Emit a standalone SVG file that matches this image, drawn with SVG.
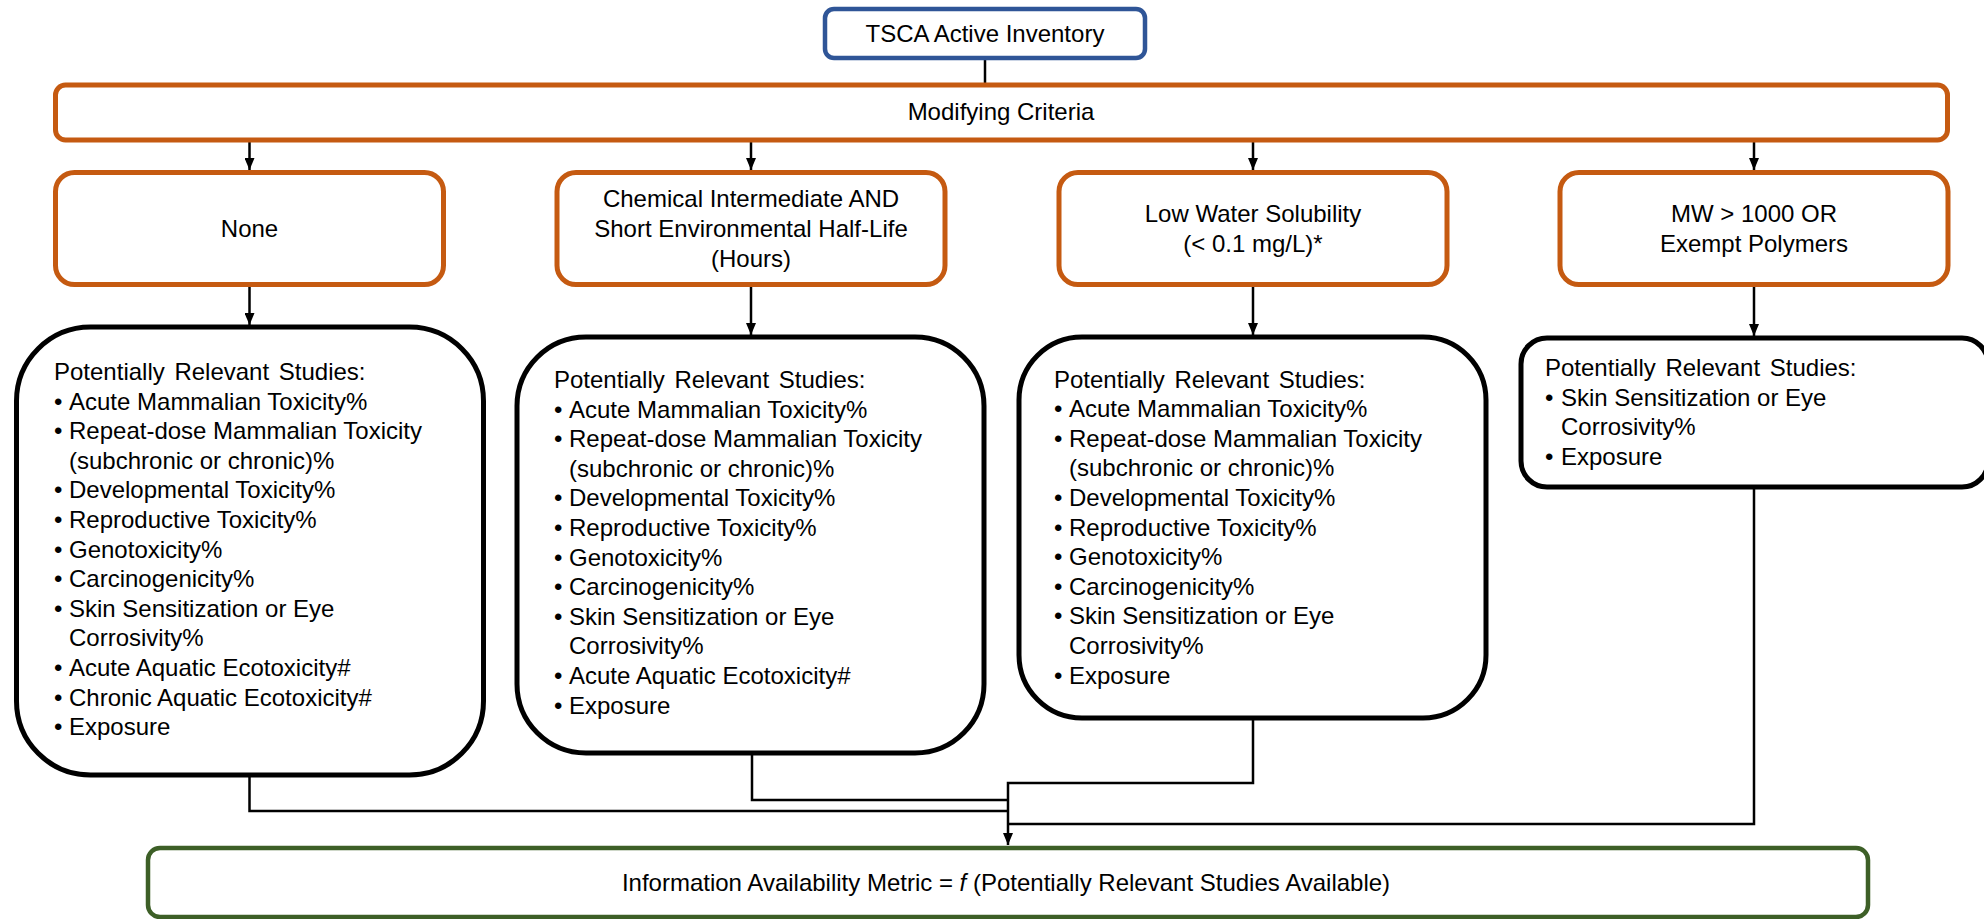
<svg xmlns="http://www.w3.org/2000/svg" width="1984" height="919" viewBox="0 0 1984 919">
<defs>
<style>
text{font-family:"Liberation Sans",Arial,sans-serif;font-size:24px;fill:#000}
.c{text-anchor:middle}
.h{word-spacing:3px}
.crit{fill:#fff;stroke:#C55A11;stroke-width:5}
.study{fill:#fff;stroke:#000;stroke-width:5}
.conn{fill:none;stroke:#000;stroke-width:2.5}
</style>
<marker id="ah" viewBox="0 0 12 10" refX="12" refY="5" markerWidth="12" markerHeight="10" markerUnits="userSpaceOnUse" orient="auto">
<path d="M0,0 L12,5 L0,10 z" fill="#000"/>
</marker>
</defs>
<rect width="1984" height="919" fill="#fff"/>

<g id="connectors">
<line class="conn" x1="985" y1="58" x2="985" y2="84"/>
<line class="conn" x1="249.5" y1="142" x2="249.5" y2="170" marker-end="url(#ah)"/>
<line class="conn" x1="751" y1="142" x2="751" y2="170" marker-end="url(#ah)"/>
<line class="conn" x1="1253" y1="142" x2="1253" y2="170" marker-end="url(#ah)"/>
<line class="conn" x1="1754" y1="142" x2="1754" y2="170" marker-end="url(#ah)"/>
<line class="conn" x1="249.5" y1="286" x2="249.5" y2="325" marker-end="url(#ah)"/>
<line class="conn" x1="751" y1="286" x2="751" y2="335" marker-end="url(#ah)"/>
<line class="conn" x1="1253" y1="286" x2="1253" y2="335" marker-end="url(#ah)"/>
<line class="conn" x1="1754" y1="286" x2="1754" y2="336" marker-end="url(#ah)"/>
<polyline class="conn" points="249.5,776 249.5,811 1008,811"/>
<polyline class="conn" points="752,754 752,800 1008,800"/>
<polyline class="conn" points="1253,719 1253,783 1008,783 1008,845" marker-end="url(#ah)"/>
<polyline class="conn" points="1754,488 1754,824 1008,824"/>
</g>

<g id="tsca">
<rect x="825" y="9" width="320" height="49" rx="9" fill="#fff" stroke="#2F5597" stroke-width="4.5"/>
<text class="c" x="985" y="42">TSCA Active Inventory</text>
</g>

<g id="modifying">
<rect x="55.5" y="85" width="1892" height="55" rx="10" class="crit"/>
<text class="c" x="1001" y="120">Modifying Criteria</text>
</g>

<g id="crit-none">
<rect x="55.5" y="172.5" width="388" height="112" rx="19" class="crit"/>
<text class="c" x="249.5" y="237">None</text>
</g>
<g id="crit-chem">
<rect x="557" y="172.5" width="388" height="112" rx="19" class="crit"/>
<text class="c" x="751" y="207">Chemical Intermediate AND</text>
<text class="c" x="751" y="237">Short Environmental Half-Life</text>
<text class="c" x="751" y="267">(Hours)</text>
</g>
<g id="crit-low">
<rect x="1059" y="172.5" width="388" height="112" rx="19" class="crit"/>
<text class="c" x="1253" y="222">Low Water Solubility</text>
<text class="c" x="1253" y="252">(&lt; 0.1 mg/L)*</text>
</g>
<g id="crit-mw">
<rect x="1560" y="172.5" width="388" height="112" rx="19" class="crit"/>
<text class="c" x="1754" y="222">MW &gt; 1000 OR</text>
<text class="c" x="1754" y="252">Exempt Polymers</text>
</g>

<g id="study-none">
<rect x="16.5" y="327" width="467" height="448" rx="74" class="study"/>
<text class="h" x="54" y="380">Potentially Relevant Studies:</text>
<text x="54" y="409.6">•</text><text x="69" y="409.6">Acute Mammalian Toxicity%</text>
<text x="54" y="439.2">•</text><text x="69" y="439.2">Repeat-dose Mammalian Toxicity</text>
<text x="69" y="468.8">(subchronic or chronic)%</text>
<text x="54" y="498.4">•</text><text x="69" y="498.4">Developmental Toxicity%</text>
<text x="54" y="528">•</text><text x="69" y="528">Reproductive Toxicity%</text>
<text x="54" y="557.6">•</text><text x="69" y="557.6">Genotoxicity%</text>
<text x="54" y="587.2">•</text><text x="69" y="587.2">Carcinogenicity%</text>
<text x="54" y="616.8">•</text><text x="69" y="616.8">Skin Sensitization or Eye</text>
<text x="69" y="646.4">Corrosivity%</text>
<text x="54" y="676">•</text><text x="69" y="676">Acute Aquatic Ecotoxicity#</text>
<text x="54" y="705.6">•</text><text x="69" y="705.6">Chronic Aquatic Ecotoxicity#</text>
<text x="54" y="735.2">•</text><text x="69" y="735.2">Exposure</text>
</g>

<g id="study-chem">
<rect x="517" y="337" width="467" height="416" rx="69" class="study"/>
<text class="h" x="554" y="388">Potentially Relevant Studies:</text>
<text x="554" y="417.6">•</text><text x="569" y="417.6">Acute Mammalian Toxicity%</text>
<text x="554" y="447.2">•</text><text x="569" y="447.2">Repeat-dose Mammalian Toxicity</text>
<text x="569" y="476.8">(subchronic or chronic)%</text>
<text x="554" y="506.4">•</text><text x="569" y="506.4">Developmental Toxicity%</text>
<text x="554" y="536">•</text><text x="569" y="536">Reproductive Toxicity%</text>
<text x="554" y="565.6">•</text><text x="569" y="565.6">Genotoxicity%</text>
<text x="554" y="595.2">•</text><text x="569" y="595.2">Carcinogenicity%</text>
<text x="554" y="624.8">•</text><text x="569" y="624.8">Skin Sensitization or Eye</text>
<text x="569" y="654.4">Corrosivity%</text>
<text x="554" y="684">•</text><text x="569" y="684">Acute Aquatic Ecotoxicity#</text>
<text x="554" y="713.6">•</text><text x="569" y="713.6">Exposure</text>
</g>

<g id="study-low">
<rect x="1019" y="337" width="467" height="381" rx="63" class="study"/>
<text class="h" x="1054" y="387.5">Potentially Relevant Studies:</text>
<text x="1054" y="417.1">•</text><text x="1069" y="417.1">Acute Mammalian Toxicity%</text>
<text x="1054" y="446.7">•</text><text x="1069" y="446.7">Repeat-dose Mammalian Toxicity</text>
<text x="1069" y="476.3">(subchronic or chronic)%</text>
<text x="1054" y="505.9">•</text><text x="1069" y="505.9">Developmental Toxicity%</text>
<text x="1054" y="535.5">•</text><text x="1069" y="535.5">Reproductive Toxicity%</text>
<text x="1054" y="565.1">•</text><text x="1069" y="565.1">Genotoxicity%</text>
<text x="1054" y="594.7">•</text><text x="1069" y="594.7">Carcinogenicity%</text>
<text x="1054" y="624.3">•</text><text x="1069" y="624.3">Skin Sensitization or Eye</text>
<text x="1069" y="653.9">Corrosivity%</text>
<text x="1054" y="683.5">•</text><text x="1069" y="683.5">Exposure</text>
</g>

<g id="study-mw">
<rect x="1521" y="338" width="467" height="149" rx="26" class="study"/>
<text class="h" x="1545" y="376">Potentially Relevant Studies:</text>
<text x="1545" y="405.6">•</text><text x="1561" y="405.6">Skin Sensitization or Eye</text>
<text x="1561" y="435.2">Corrosivity%</text>
<text x="1545" y="464.8">•</text><text x="1561" y="464.8">Exposure</text>
</g>

<g id="metric">
<rect x="148" y="848" width="1720" height="69" rx="12" fill="#fff" stroke="#3D5F27" stroke-width="4.5"/>
<text class="c" x="1006" y="891">Information Availability Metric = <tspan font-style="italic">f</tspan> (Potentially Relevant Studies Available)</text>
</g>
</svg>
